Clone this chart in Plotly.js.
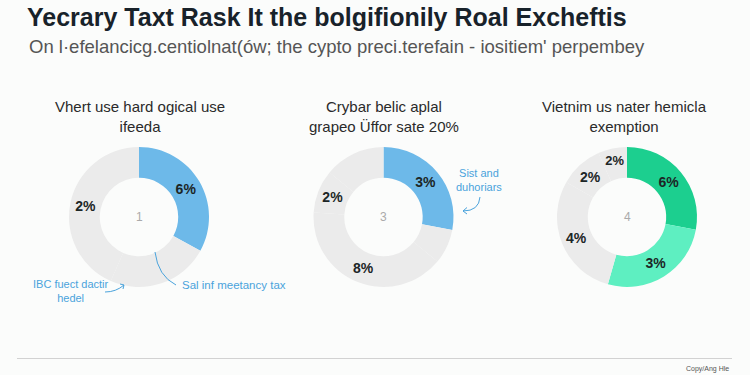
<!DOCTYPE html>
<html>
<head>
<meta charset="utf-8">
<script src="https://cdn.plot.ly/plotly-3.0.1.min.js"></script>
<style>html,body{margin:0;padding:0;background:#fbfcfb;}#chart{width:750px;height:375px;}</style>
</head>
<body>
<div id="chart"></div>
<script>
// ---- data ----
const chartTitle = "Yecrary Taxt Rask It the bolgifionily Roal Excheftis";
const chartSubtitle = "On l·efelancicg.centiolnat(ów; the cypto preci.terefain - iositiem' perpembey";
const panelTitles = [
  "Vhert use hard ogical use<br>ifeeda",
  "Crybar belic aplal<br>grapeo Üffor sate 20%",
  "Vietnim us nater hemicla<br>exemption"
];
const centerLabels = ["1", "3", "4"];
// slice shares (clockwise from 12 o'clock)
const donut1Values = [33, 23.6, 43.4];
const donut1Labels = ["6%", "", "2%"];
const donut2Values = [28, 8, 40, 10, 14];
const donut2Labels = ["3%", "", "8%", "2%", ""];
const donut3Values = [27.9, 26.5, 28.9, 10, 6.7];
const donut3Labels = ["6%", "3%", "4%", "2%", "2%"];
const calloutTexts = ["IBC fuect dactir<br>hedel", "Sal inf meetancy tax", "Sist and<br>duhoriars"];
const footerText = "Copy/Ang Hle";

// ---- styling ----
const W = 750, H = 375;
const px = x => x / W;
const py = y => 1 - y / H;
const BLUE = "#6db9e9", GRAY = "#ebebeb", DGREEN = "#1ccf8f", MINT = "#5eefc1";
const LBLUE = "#4aa3dc";
const FONT = "Liberation Sans, Arial, sans-serif";

function domain(cx, cy, r) {
  return { x: [px(cx - r), px(cx + r)], y: [py(cy + r), py(cy - r)] };
}
const centers = [[139, 217], [383.5, 217], [627, 217]];
const R = 70;

function pie(values, labels, colors, d) {
  return {
    type: "pie", values: values, text: labels, labels: values.map((_, i) => "s" + i),
    textinfo: "text", textposition: "inside", insidetextorientation: "horizontal",
    hole: 0.56, sort: false, direction: "clockwise", rotation: 0,
    marker: { colors: colors, line: { width: 0 } },
    insidetextfont: { family: FONT, size: 14, color: "#1c2626", weight: "bold" },
    domain: d, hoverinfo: "none", showlegend: false
  };
}

const data = [
  pie(donut1Values, donut1Labels, [BLUE, GRAY, GRAY], domain(centers[0][0], centers[0][1], R)),
  pie(donut2Values, donut2Labels, [BLUE, GRAY, GRAY, GRAY, GRAY], domain(centers[1][0], centers[1][1], R)),
  pie(donut3Values, donut3Labels, [DGREEN, MINT, GRAY, GRAY, GRAY], domain(centers[2][0], centers[2][1], R))
];

const annotations = [];
annotations.push({ xref: "paper", yref: "paper", x: px(27), y: py(46), xanchor: "left", yanchor: "middle",
  text: chartSubtitle, showarrow: false, font: { family: FONT, size: 18.5, color: "#555" } });
const titleX = [140, 384, 624];
panelTitles.forEach((t, i) => annotations.push({ xref: "paper", yref: "paper", x: px(titleX[i]), y: py(116),
  xanchor: "center", yanchor: "middle", text: t, showarrow: false,
  font: { family: FONT, size: 15, color: "#2a2a2a" } }));
centerLabels.forEach((t, i) => annotations.push({ xref: "paper", yref: "paper", x: px(centers[i][0]), y: py(centers[i][1]),
  xanchor: "center", yanchor: "middle", text: t, showarrow: false,
  font: { family: FONT, size: 12, color: "#aaa" } }));
annotations.push({ xref: "paper", yref: "paper", x: px(71), y: py(291), xanchor: "center", yanchor: "middle",
  text: calloutTexts[0], showarrow: false, font: { family: FONT, size: 11, color: LBLUE } });
annotations.push({ xref: "paper", yref: "paper", x: px(180), y: py(285), xanchor: "left", yanchor: "middle",
  text: calloutTexts[1], showarrow: false, font: { family: FONT, size: 11.5, color: LBLUE } });
annotations.push({ xref: "paper", yref: "paper", x: px(479), y: py(180), xanchor: "center", yanchor: "middle",
  text: calloutTexts[2], showarrow: false, font: { family: FONT, size: 11, color: LBLUE } });
annotations.push({ xref: "paper", yref: "paper", x: px(731), y: py(369), xanchor: "right", yanchor: "middle",
  text: footerText, showarrow: false, font: { family: FONT, size: 7, color: "#555" } });

function pth(pts) { // pts: array of [cmd, x, y,...] in pixels
  return pts.map(p => p[0] + " " + p.slice(1).map((v, j) => j % 2 === 0 ? px(v) : py(v)).join(" ")).join(" ");
}
const shapes = [
  { type: "line", xref: "paper", yref: "paper", x0: px(17), x1: px(732), y0: py(358.5), y1: py(358.5),
    line: { color: "#d2d2d2", width: 1 } },
  // callout curves
  { type: "path", xref: "paper", yref: "paper", path: pth([["M", 105, 292], ["Q", 116, 292, 124, 285]]),
    line: { color: LBLUE, width: 1 } },
  { type: "path", xref: "paper", yref: "paper", path: pth([["M", 120, 284], ["L", 124, 285], ["L", 123, 289]]),
    line: { color: LBLUE, width: 1 } },
  { type: "path", xref: "paper", yref: "paper", path: pth([["M", 155, 252], ["Q", 158, 276, 176, 285]]),
    line: { color: LBLUE, width: 1 } },
  { type: "path", xref: "paper", yref: "paper", path: pth([["M", 480, 197], ["Q", 479, 211, 463, 211]]),
    line: { color: LBLUE, width: 1 } },
  { type: "path", xref: "paper", yref: "paper", path: pth([["M", 467, 207.5], ["L", 463, 211], ["L", 467, 214]]),
    line: { color: LBLUE, width: 1 } }
];

const layout = {
  width: W, height: H,
  margin: { l: 0, r: 0, t: 0, b: 0 },
  paper_bgcolor: "#fbfcfb", plot_bgcolor: "#fbfcfb",
  title: { text: chartTitle, x: px(27), xanchor: "left", y: 1 - 17 / H, yanchor: "middle", yref: "container",
    font: { family: FONT, size: 25, color: "#18222a", weight: "bold" } },
  annotations: annotations,
  shapes: shapes,
  showlegend: false
};
Plotly.newPlot("chart", data, layout, { staticPlot: true });
</script>
</body>
</html>
